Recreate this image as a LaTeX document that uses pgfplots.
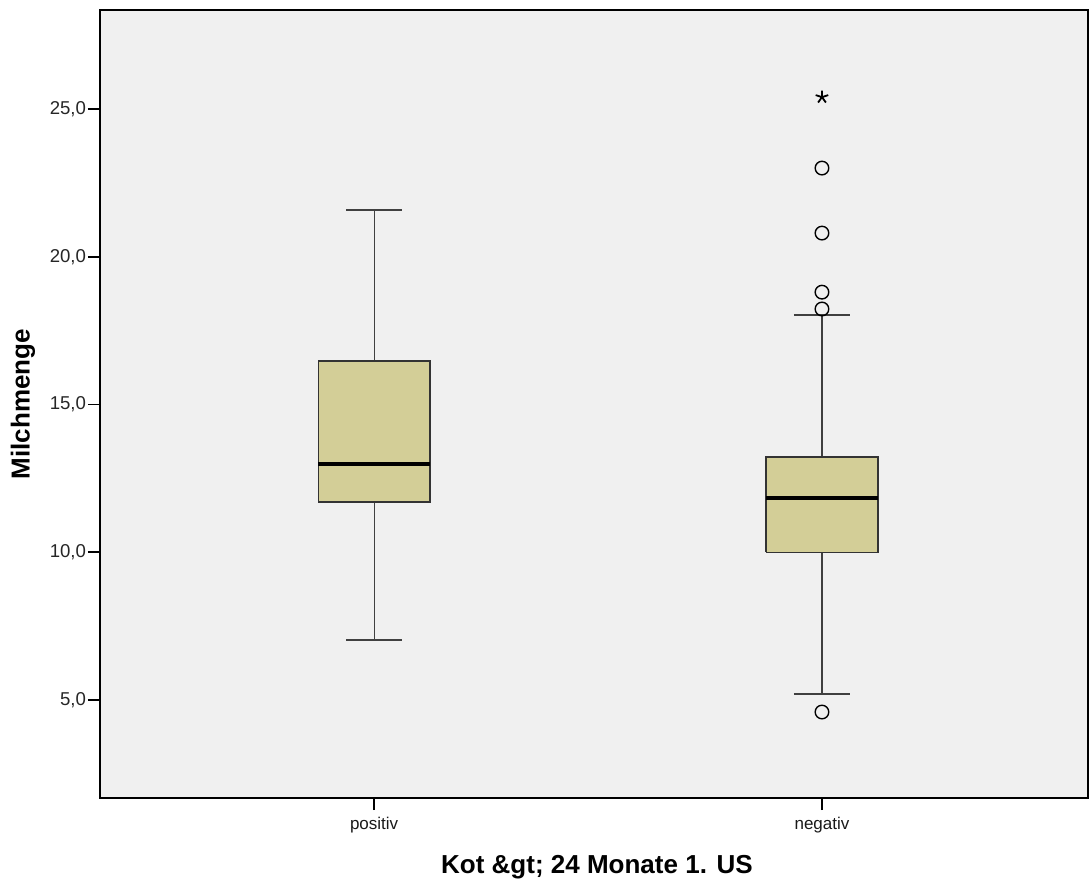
\documentclass[border=0pt]{standalone}
\usepackage{pgfplots}
\pgfplotsset{compat=1.18}
\usepackage{fontspec}
\setmainfont{Liberation Sans}
\definecolor{boxfill}{HTML}{D3CE97}
\definecolor{bg}{HTML}{F0F0F0}
\begin{document}
\begin{tikzpicture}
\begin{axis}[
  name=ax,
  scale only axis,
  width=494pt, height=394pt,
  xmin=0.388, xmax=2.594,
  ymin=1.68, ymax=28.35,
  axis background/.style={fill=bg},
  xtick={1,2}, xticklabels={positiv,negativ},
  ytick={5,10,15,20,25},
  yticklabel={\pgfmathprintnumber[fixed,fixed zerofill,precision=1,use comma,assume math mode=true]{\tick}},
  tick align=outside, xtick pos=left, ytick pos=left,
  major tick length=6pt,
  tick style={black, line width=0.9pt},
  yticklabel style={font=\fontsize{9.3}{10}\selectfont, text=black!85, inner sep=0.8pt},
  xticklabel style={font=\fontsize{8.5}{10}\selectfont, text=black!90},
  ylabel={\bfseries Milchmenge},
  xlabel={\bfseries Kot \&gt; 24 Monate 1. US},
  label style={font=\fontsize{13}{15}\selectfont\bfseries},
  ylabel style={at={(axis description cs:-0.0779,0.5)}, anchor=center},
  xlabel style={at={(axis description cs:0.503,-0.0952)}, anchor=base},
  axis line style={black, line width=0.7pt},
  whisk/.style={draw=black!75, line width=0.6pt, mark=none},
]
% positiv: whiskers 7.03 / 21.58, box 11.7 - 16.47, median 12.98
\addplot[whisk] coordinates {(1,16.47) (1,21.58)};
\addplot[whisk] coordinates {(1,11.7) (1,7.03)};
\addplot[whisk] coordinates {(0.9375,21.58) (1.0625,21.58)};
\addplot[whisk] coordinates {(0.9375,7.03) (1.0625,7.03)};
\addplot[fill=boxfill, draw=black!80, line width=0.6pt, mark=none] coordinates {(0.875,11.7) (1.125,11.7) (1.125,16.47) (0.875,16.47) (0.875,11.7)};
\addplot[black, line width=2.2pt, mark=none] coordinates {(0.875,12.98) (1.125,12.98)};
% negativ: whiskers 5.2 / 18.03, box 10.0 - 13.22, median 11.83
\addplot[whisk] coordinates {(2,13.22) (2,18.03)};
\addplot[whisk] coordinates {(2,10.0) (2,5.2)};
\addplot[whisk] coordinates {(1.9375,18.03) (2.0625,18.03)};
\addplot[whisk] coordinates {(1.9375,5.2) (2.0625,5.2)};
\addplot[fill=boxfill, draw=black!80, line width=0.6pt, mark=none] coordinates {(1.875,10.0) (2.125,10.0) (2.125,13.22) (1.875,13.22) (1.875,10.0)};
\addplot[black, line width=2.2pt, mark=none] coordinates {(1.875,11.83) (2.125,11.83)};
% outliers
\addplot[only marks, mark=o, mark size=3.4pt, mark options={draw=black, fill=none, line width=0.7pt}] coordinates {(2,4.59) (2,18.23) (2,18.8) (2,20.8) (2,23.0)};
\addplot[only marks, mark=star, mark size=3.3pt, mark options={black, line width=0.9pt}] coordinates {(2,25.4)};
\end{axis}
\path ([xshift=-50pt,yshift=-40.5pt]ax.south west) rectangle ([xshift=0.5pt,yshift=5pt]ax.north east);
\end{tikzpicture}
\end{document}
